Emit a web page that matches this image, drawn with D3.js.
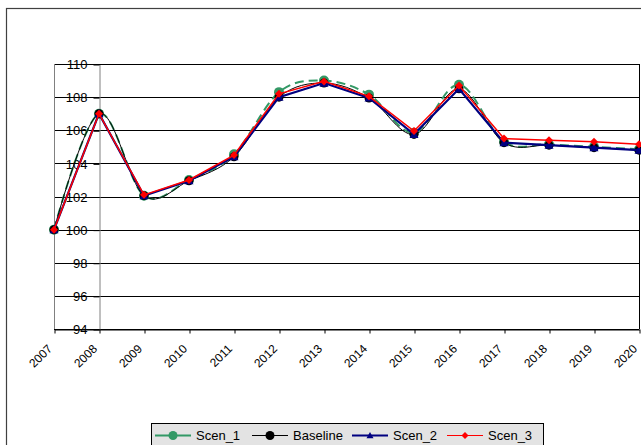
<!DOCTYPE html>
<html>
<head>
<meta charset="utf-8">
<script src="https://cdn.jsdelivr.net/npm/d3@7/dist/d3.min.js"></script>
<style>
  html, body { margin: 0; padding: 0; background: #fff; }
  svg { display: block; font-family: "Liberation Sans", Arial, sans-serif; }
</style>
</head>
<body>
<svg id="chart" width="641" height="445"></svg>
<script>
// Index values by year for each scenario
const years    = [2007, 2008, 2009, 2010, 2011, 2012, 2013, 2014, 2015, 2016, 2017, 2018, 2019, 2020];
const scen1    = [100, 107.0, 102.05, 103.0, 104.55, 108.3, 109.0, 108.15, 105.85, 108.75, 105.3, 105.15, 105.0, 104.85];
const baseline = [100, 107.0, 102.05, 102.95, 104.4, 108.0, 108.85, 107.95, 105.75, 108.5, 105.25, 105.1, 104.95, 104.8];
const scen2    = [100, 107.0, 102.05, 102.95, 104.4, 108.0, 108.85, 107.95, 105.75, 108.5, 105.25, 105.1, 104.95, 104.8];
const scen3    = [100, 107.0, 102.1, 103.0, 104.5, 108.2, 108.95, 108.05, 105.95, 108.7, 105.5, 105.4, 105.3, 105.15];
const yTicks   = [94, 96, 98, 100, 102, 104, 106, 108, 110];
const seriesNames = ["Scen_1", "Baseline", "Scen_2", "Scen_3"];

const svg = d3.select("#chart");

// Chart area frame
svg.append("rect")
  .attr("x", 6.5).attr("y", 8.5).attr("width", 700).attr("height", 500)
  .attr("fill", "#fff").attr("stroke", "#404040").attr("stroke-width", 1.2);

const plotLeft = 54, plotRight = 639, plotTop = 64, plotBottom = 329;
const x = d3.scaleLinear().domain([years[0], years[years.length - 1]]).range([plotLeft, plotRight]);
const y = d3.scaleLinear().domain([94, 110]).range([plotBottom, plotTop]);

// Horizontal gridlines
svg.append("g").selectAll("line").data(yTicks).join("line")
  .attr("x1", plotLeft).attr("x2", plotRight)
  .attr("y1", d => Math.round(y(d)) + 0.5).attr("y2", d => Math.round(y(d)) + 0.5)
  .attr("stroke", "#000").attr("stroke-width", 1);

// Plot area sides
svg.append("line").attr("x1", plotLeft + 0.5).attr("x2", plotLeft + 0.5).attr("y1", plotTop).attr("y2", plotBottom)
  .attr("stroke", "#808080");
svg.append("line").attr("x1", plotRight + 0.5).attr("x2", plotRight + 0.5).attr("y1", plotTop).attr("y2", plotBottom)
  .attr("stroke", "#000");

// Value axis, crossing at 2008
const yAxis = svg.append("g")
  .attr("transform", `translate(${Math.round(x(2008)) + 0.5},0.5)`)
  .call(d3.axisLeft(y).tickValues(yTicks).tickSize(6).tickSizeOuter(0).tickPadding(6).tickFormat(d3.format("d")));
yAxis.select(".domain").attr("stroke", "#808080");
yAxis.selectAll(".tick line").attr("stroke", "#000");
yAxis.selectAll("text").attr("font-size", 13).attr("fill", "#000")
  .attr("font-family", "'Liberation Sans', Arial, sans-serif");

// Category axis
const xAxis = svg.append("g")
  .attr("transform", `translate(0.5,${Math.round(y(94)) + 0.5})`)
  .call(d3.axisBottom(x).tickValues(years).tickSize(4).tickSizeOuter(0).tickFormat(d3.format("d")));
xAxis.select(".domain").attr("stroke", "#000");
xAxis.selectAll(".tick line").attr("stroke", "#000");
xAxis.selectAll("text")
  .attr("font-size", 12).attr("fill", "#000")
  .attr("font-family", "'Liberation Sans', Arial, sans-serif")
  .attr("text-anchor", "end")
  .attr("y", 0).attr("dy", "0.35em")
  .attr("transform", "translate(-5,17) rotate(-45)");

const pts = vals => vals.map((v, i) => [x(years[i]), y(v)]);
const smooth = d3.line().curve(d3.curveCatmullRom.alpha(0));
const straight = d3.line();

const series = [
  { name: seriesNames[0], vals: scen1, color: "#339966", width: 2, dash: "9,5", curve: smooth, marker: "circle", size: 5 },
  { name: seriesNames[1], vals: baseline, color: "#000000", width: 1, dash: null, curve: smooth, marker: "circle", size: 4.5 },
  { name: seriesNames[2], vals: scen2, color: "#000080", width: 2.2, dash: null, curve: straight, marker: "triangle", size: 4.5 },
  { name: seriesNames[3], vals: scen3, color: "#ff0000", width: 1.5, dash: null, curve: straight, marker: "diamond", size: 4 }
];

function drawMarker(g, type, cx, cy, r, color) {
  if (type === "circle") {
    g.append("circle").attr("cx", cx).attr("cy", cy).attr("r", r).attr("fill", color);
  } else if (type === "triangle") {
    g.append("path")
      .attr("d", `M${cx},${cy - r} L${cx + r},${cy + r * 0.8} L${cx - r},${cy + r * 0.8} Z`)
      .attr("fill", color);
  } else {
    g.append("path")
      .attr("d", `M${cx},${cy - r} L${cx + r},${cy} L${cx},${cy + r} L${cx - r},${cy} Z`)
      .attr("fill", color);
  }
}

series.forEach(s => {
  const g = svg.append("g");
  g.append("path")
    .attr("d", s.curve(pts(s.vals)))
    .attr("fill", "none").attr("stroke", s.color).attr("stroke-width", s.width)
    .attr("stroke-dasharray", s.dash);
  pts(s.vals).forEach(([cx, cy]) => drawMarker(g, s.marker, cx, cy, s.size, s.color));
});

// Legend
const lg = svg.append("g");
lg.append("rect").attr("x", 151.5).attr("y", 423.5).attr("width", 392).attr("height", 30)
  .attr("fill", "#e3e3e3").attr("stroke", "#000").attr("stroke-width", 1);
const legendX = [155, 252, 352, 447];
series.forEach((s, i) => {
  const x0 = legendX[i];
  lg.append("line").attr("x1", x0).attr("x2", x0 + 36).attr("y1", 435.5).attr("y2", 435.5)
    .attr("stroke", s.color).attr("stroke-width", s.width > 1.5 ? 2 : 1.2);
  drawMarker(lg, s.marker, x0 + 18, 435.5, s.marker === "circle" ? 4.5 : 3.5, s.color);
  lg.append("text").attr("x", x0 + 41).attr("y", 440)
    .attr("font-size", 13).attr("fill", "#000").text(s.name);
});
</script>
</body>
</html>
